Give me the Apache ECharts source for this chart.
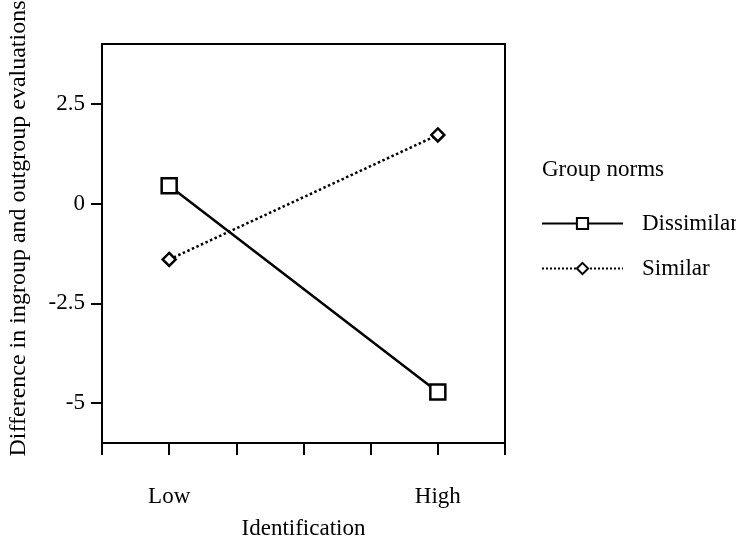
<!DOCTYPE html>
<html>
<head>
<meta charset="utf-8">
<script src="https://cdn.jsdelivr.net/npm/echarts@6/dist/echarts.min.js"></script>
<style>
  html, body { margin: 0; padding: 0; background: #fff; }
  #chart { width: 736px; height: 546px; }
</style>
</head>
<body>
<div id="chart"></div>
<script>
// x positions on a 0..6 scale, Low sits at 1 and High at 5
var xPositions = [1, 5];
var xLabels = { 1: 'Low', 5: 'High' };
var yTicks = [-5, -2.5, 0, 2.5];

var seriesNames = ['Dissimilar', 'Similar'];
var dissimilar = [0.45, -4.72];
var similar = [-1.4, 1.72];

var font = 'Liberation Serif';
var fs = 23;

function pairs(vals) {
  var out = [];
  for (var i = 0; i < vals.length; i++) {
    out.push([xPositions[i], vals[i]]);
  }
  return out;
}

var chart = echarts.init(document.getElementById('chart'));
chart.setOption({
  backgroundColor: '#fff',
  animation: false,
  textStyle: { fontFamily: font, color: '#000' },
  grid: {
    left: 102, right: 231, top: 44, bottom: 103,
    outerBoundsMode: 'none',
    containLabel: false,
    show: true, borderColor: '#000', borderWidth: 2,
    backgroundColor: 'transparent'
  },
  title: {
    text: 'Group norms',
    left: 537, top: 153,
    textStyle: { fontFamily: font, fontSize: fs, fontWeight: 'normal', color: '#000' }
  },
  legend: {
    orient: 'vertical',
    left: 536, top: 207,
    itemWidth: 81, itemHeight: 14, itemGap: 22,
    data: seriesNames,
    textStyle: { fontFamily: font, fontSize: fs, color: '#000', padding: [0, 0, 0, 14] }
  },
  xAxis: {
    type: 'value', min: 0, max: 6, interval: 1,
    name: 'Identification', nameLocation: 'middle', nameGap: 74,
    nameTextStyle: { fontFamily: font, fontSize: fs, color: '#000' },
    axisLine: { show: true, onZero: false, lineStyle: { color: '#000', width: 2 } },
    axisTick: { show: true, inside: false, length: 12, lineStyle: { color: '#000', width: 2 } },
    splitLine: { show: false },
    axisLabel: {
      margin: 42, fontFamily: font, fontSize: fs, color: '#000',
      formatter: function (v) { return xLabels[v] || ''; }
    }
  },
  yAxis: {
    type: 'value', min: -6, max: 4,
    name: 'Difference in ingroup and outgroup evaluations',
    nameLocation: 'middle', nameRotate: 90, nameGap: 71,
    nameTextStyle: { fontFamily: font, fontSize: 24, color: '#000', padding: [0, 0, 0, 30] },
    axisLine: { show: true, onZero: false, lineStyle: { color: '#000', width: 2 } },
    axisTick: { show: true, length: 11, customValues: yTicks, lineStyle: { color: '#000', width: 2 } },
    splitLine: { show: false },
    axisLabel: {
      margin: 17, fontFamily: font, fontSize: fs, color: '#000',
      customValues: yTicks,
      formatter: function (v) { return String(v); }
    }
  },
  series: [
    {
      name: seriesNames[0], type: 'line',
      data: pairs(dissimilar),
      symbol: 'rect', symbolSize: 15,
      lineStyle: { color: '#000', width: 2.5, type: 'solid' },
      itemStyle: { color: '#fff', borderColor: '#000', borderWidth: 2.5 }
    },
    {
      name: seriesNames[1], type: 'line',
      data: pairs(similar),
      symbol: 'diamond', symbolSize: 13,
      lineStyle: { color: '#000', width: 2.5, type: 'dotted' },
      itemStyle: { color: '#fff', borderColor: '#000', borderWidth: 2.5 }
    }
  ]
});
</script>
</body>
</html>
